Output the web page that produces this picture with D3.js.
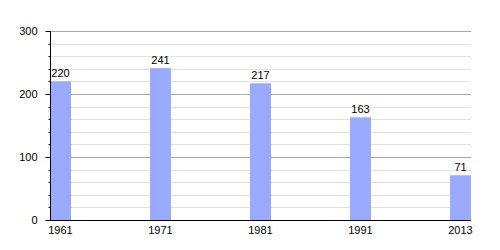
<!DOCTYPE html>
<html>
<head>
<meta charset="utf-8">
<script src="https://cdn.jsdelivr.net/npm/d3@7"></script>
<style>
  body { margin: 0; background: #fff; }
  text { font-family: "Liberation Sans", Arial, sans-serif; font-size: 11px; fill: #000; }
</style>
</head>
<body>
<div id="chart"></div>
<script>
const years = ["1961", "1971", "1981", "1991", "2013"];
const population = [220, 241, 217, 163, 71];
const yMajorTicks = [0, 100, 200, 300];

const width = 500, height = 250;
const margin = { left: 50, right: 471, top: 31, bottom: 220 };
const barWidth = 21;

const svg = d3.select("#chart").append("svg")
    .attr("width", width)
    .attr("height", height);

const x = d3.scalePoint()
    .domain(years)
    .range([margin.left, margin.left + 400]);

const y = d3.scaleLinear()
    .domain([0, 300])
    .range([margin.bottom, margin.top]);

const minorTicks = d3.range(0, 301, 20).filter(d => d % 100 !== 0);

// minor grid lines
svg.append("g").selectAll("line")
    .data(minorTicks)
    .enter().append("line")
    .attr("x1", margin.left).attr("x2", margin.right)
    .attr("y1", d => Math.round(y(d)) + 0.5)
    .attr("y2", d => Math.round(y(d)) + 0.5)
    .attr("stroke", "#e2e2e2");

// major grid lines
svg.append("g").selectAll("line")
    .data(yMajorTicks.filter(d => d > 0))
    .enter().append("line")
    .attr("x1", margin.left).attr("x2", margin.right)
    .attr("y1", d => Math.round(y(d)) + 0.5)
    .attr("y2", d => Math.round(y(d)) + 0.5)
    .attr("stroke", "#a8a8a8");

// bars
svg.append("g").selectAll("rect")
    .data(population)
    .enter().append("rect")
    .attr("x", (d, i) => x(years[i]))
    .attr("y", d => y(d))
    .attr("width", barWidth)
    .attr("height", d => y(0) - y(d))
    .attr("fill", "#99aaff");

// value labels
svg.append("g").selectAll("text")
    .data(population)
    .enter().append("text")
    .attr("x", (d, i) => x(years[i]) + barWidth / 2)
    .attr("y", d => y(d) - 4)
    .attr("text-anchor", "middle")
    .text(d => d);

// y axis
const yAxis = svg.append("g")
    .attr("transform", `translate(${margin.left + 0.5},0)`);
yAxis.call(d3.axisLeft(y).tickValues(yMajorTicks).tickSize(5).tickPadding(8));
yAxis.selectAll(".minor")
    .data(minorTicks)
    .enter().append("line")
    .attr("class", "minor")
    .attr("x1", -2).attr("x2", 0)
    .attr("y1", d => Math.round(y(d)) + 0.5)
    .attr("y2", d => Math.round(y(d)) + 0.5)
    .attr("stroke", "#000");
yAxis.select(".domain").attr("d", `M0,${margin.top}V${margin.bottom}`);
yAxis.selectAll("text").style("font-size", "11px").attr("font-family", null);

// x axis
const xAxis = svg.append("g")
    .attr("transform", `translate(0,${margin.bottom + 0.5})`);
xAxis.append("line")
    .attr("x1", margin.left).attr("x2", margin.right)
    .attr("stroke", "#000");
xAxis.selectAll("text")
    .data(years)
    .enter().append("text")
    .attr("x", d => x(d) + barWidth / 2)
    .attr("y", 13)
    .attr("text-anchor", "middle")
    .text(d => d);
</script>
</body>
</html>
